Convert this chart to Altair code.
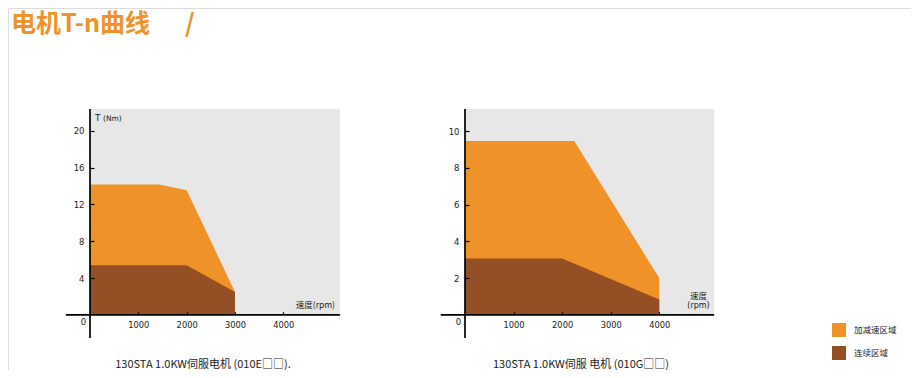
import altair as alt
import pandas as pd

# ---------------- data ----------------
title_text = "电机T-n曲线"
title_slash = "/"
zone_names = ["加减速区域", "连续区域"]
zone_colors = ["#EE9229", "#954F24"]
gray = "#E6E7E6"

# panel 1 : 010E
p1_caption = "130STA 1.0KW伺服电机 (010E□□)."
p1_acc_rpm = [0, 1430, 2000, 3000]
p1_acc_t = [14.17, 14.17, 13.55, 2.48]
p1_cont_rpm = [0, 2000, 3000]
p1_cont_t = [5.39, 5.39, 2.48]
p1_xticks = [1000, 2000, 3000, 4000]
p1_yticks = [4, 8, 12, 16, 20]
p1_xmax = 5170
p1_ymax = 22.37
p1_xneg = -500
p1_yneg = -2.52

# panel 2 : 010G
p2_caption = "130STA 1.0KW伺服 电机 (010G□□)"
p2_acc_rpm = [0, 2250, 4000]
p2_acc_t = [9.46, 9.46, 2.0]
p2_cont_rpm = [0, 2000, 4000]
p2_cont_t = [3.06, 3.06, 0.83]
p2_xticks = [1000, 2000, 3000, 4000]
p2_yticks = [2, 4, 6, 8, 10]
p2_xmax = 5130
p2_ymax = 11.2
p2_xneg = -500
p2_yneg = -1.26

W, H = 903, 362
CJK = "Noto Sans CJK SC"
NUMF = "DejaVu Sans"

cscale = alt.Scale(domain=zone_names, range=zone_colors)
legend = alt.Legend(
    orient="none", legendX=824, legendY=315, title=None,
    symbolType="square", symbolSize=196, symbolStrokeWidth=0,
    labelFont=CJK, labelFontSize=8.5, labelColor="#222",
    labelOffset=8, rowPadding=9, padding=0,
)


def panel(acc_rpm, acc_t, cont_rpm, cont_t, xticks, yticks, xmax, ymax,
          xneg, yneg, x0, px_rpm, y0, px_t):
    def xs():
        return alt.Scale(domain=[0, xmax], range=[x0, x0 + xmax * px_rpm], nice=False, zero=False)

    def ys():
        return alt.Scale(domain=[0, ymax], range=[y0, y0 - ymax * px_t], nice=False, zero=False)

    xaxis = alt.Axis(orient="bottom", values=xticks, format="d", offset=(y0 - 3) - H,
                     tickSize=3, tickWidth=1.2, tickColor="black", labelPadding=6,
                     domain=False, grid=False, title=None, labelFont=NUMF,
                     labelFontSize=8.3, labelColor="#222", labelFlush=False, zindex=1)
    yaxis = alt.Axis(orient="left", values=yticks, format="d", offset=-(x0 + 4),
                     tickSize=4, tickWidth=1.2, tickColor="black", labelPadding=6,
                     domain=False, grid=False, title=None, labelFont=NUMF,
                     labelFontSize=8.5, labelColor="#222", zindex=1)

    bg = alt.Chart(pd.DataFrame({"x": [0], "x2": [xmax], "y": [0], "y2": [ymax]})).mark_rect(
        color=gray).encode(
        x=alt.X("x:Q", scale=xs(), axis=None), x2="x2:Q",
        y=alt.Y("y:Q", scale=ys(), axis=None), y2="y2:Q")

    acc = alt.Chart(pd.DataFrame({"rpm": acc_rpm, "t": acc_t, "zone": zone_names[0]})).mark_area(
        opacity=1).encode(
        x=alt.X("rpm:Q", scale=xs(), axis=None),
        y=alt.Y("t:Q", scale=ys(), axis=None, stack=None),
        y2=alt.datum(0),
        color=alt.Color("zone:N", scale=cscale, legend=legend))

    cont = alt.Chart(pd.DataFrame({"rpm": cont_rpm, "t": cont_t, "zone": zone_names[1]})).mark_area(
        opacity=1).encode(
        x=alt.X("rpm:Q", scale=xs(), axis=None),
        y=alt.Y("t:Q", scale=ys(), axis=None, stack=None),
        y2=alt.datum(0),
        color=alt.Color("zone:N", scale=cscale, legend=legend))

    lines = alt.Chart(pd.DataFrame({"x": [xneg, 0], "x2": [xmax, 0],
                                    "y": [0, yneg], "y2": [0, ymax]})).mark_rule(
        color="black", strokeWidth=1.7).encode(
        x=alt.X("x:Q", scale=xs(), axis=None), x2="x2:Q",
        y=alt.Y("y:Q", scale=ys(), axis=None), y2="y2:Q")

    # tick layer: carries the axes (ticks + tick labels) drawn on top
    tick_df = pd.DataFrame({"x": xticks + [0] * len(yticks), "y": [0] * len(xticks) + yticks})
    ticks = alt.Chart(tick_df).mark_point(opacity=0, size=1).encode(
        x=alt.X("x:Q", scale=xs(), axis=xaxis),
        y=alt.Y("y:Q", scale=ys(), axis=yaxis))

    zero = alt.Chart(pd.DataFrame({"x": [0], "y": [0], "lab": ["0"]})).mark_text(
        dx=-6.5, dy=7, font=NUMF, fontSize=8.5, color="#222").encode(
        x=alt.X("x:Q", scale=xs(), axis=None), y=alt.Y("y:Q", scale=ys(), axis=None), text="lab:N")

    return [bg, acc, cont, lines, ticks, zero]


pan1 = panel(p1_acc_rpm, p1_acc_t, p1_cont_rpm, p1_cont_t, p1_xticks, p1_yticks,
             p1_xmax, p1_ymax, p1_xneg, p1_yneg, 82, 0.04833, 306.8, 9.2)
pan2 = panel(p2_acc_rpm, p2_acc_t, p2_cont_rpm, p2_cont_t, p2_xticks, p2_yticks,
             p2_xmax, p2_ymax, p2_xneg, p2_yneg, 457, 0.04857, 306.8, 18.38)


def label(text, x, y, size, font=CJK, color="#222", align="left", weight="normal"):
    return alt.Chart(pd.DataFrame({"s": [text]})).mark_text(
        font=font, fontSize=size, color=color, align=align, baseline="middle",
        fontWeight=weight).encode(x=alt.value(x), y=alt.value(y), text="s:N")


texts = [
    label(title_text, 3, 16, 25, color="#EE922A", weight="bold"),
    label(title_slash, 177, 16, 25, color="#EE922A", weight="bold"),
    label(p1_caption, 195, 357, 11, align="center"),
    label(p2_caption, 573, 357, 11, align="center"),
    label("T", 87, 110, 9, font=NUMF),
    label("(Nm)", 95, 110.5, 7.5, font=NUMF),
    label("速度(rpm)", 327, 297, 8.5, align="right"),
    label("速度", 690.5, 288, 8.5, align="center"),
    label("(rpm)", 690.5, 297.5, 8, font=NUMF, align="center"),
]

chart = alt.layer(*pan1, *pan2, *texts).resolve_scale(
    x="independent", y="independent"
).properties(
    width=W, height=H, padding=0, autosize=alt.AutoSizeParams(type="none")
).configure_view(stroke=None, strokeWidth=0).configure(background="white")

chart.save("out.html", embed_options={"renderer": "svg", "actions": False})
